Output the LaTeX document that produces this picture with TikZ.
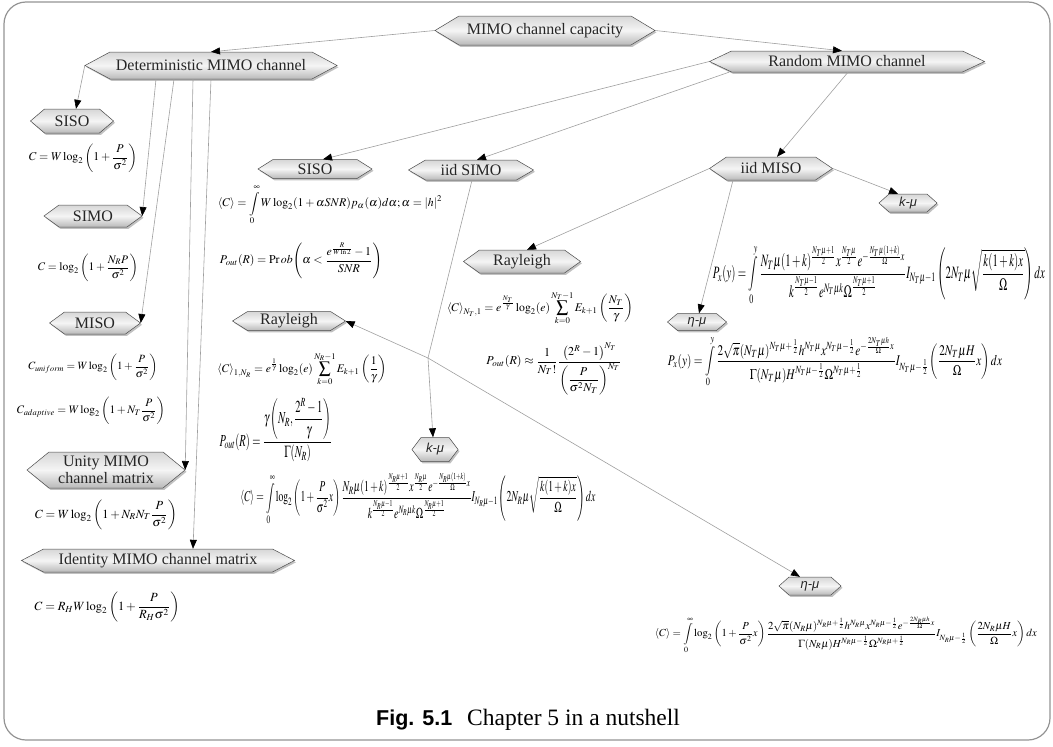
\documentclass[tikz,border=0pt]{standalone}
\usepackage{graphicx}
\usepackage{amsmath}
\usepackage{mathptmx}
\usepackage[no-math]{fontspec}
\setmainfont{Liberation Serif}
\newfontfamily\labelsans{Liberation Sans}
\usetikzlibrary{arrows.meta,shadows}

% fonts of the boxes and the caption
\newcommand\hexfont{\fontsize{16}{17}\selectfont}
\newcommand\fadingfont{\labelsans\itshape\fontsize{13}{14}\selectfont}
\newcommand\figfont{\labelsans\bfseries\fontsize{21.5}{24}\selectfont}
\newcommand\capfont{\fontsize{23.5}{26}\selectfont}

\tikzset{
  hexfill/.style={draw=gray!60!black, line width=0.5pt,
    top color=gray!32, bottom color=gray!55, middle color=gray!8,
    drop shadow={shadow xshift=1.5pt, shadow yshift=-1.8pt, fill=gray!60, opacity=0.8}},
  hexlabel/.style={rectangle, inner sep=0pt, align=center, font=\hexfont, text=black!85},
  link/.style={draw=gray!75, line width=0.6pt,
    -{Triangle[length=9pt, width=7pt, color=black]}},
  plainlink/.style={draw=gray!75, line width=0.6pt},
  eq/.style={inner sep=0pt},
  frame/.style={draw=gray!85, line width=1.2pt, rounded corners=22pt}
}

% hexagonal box: name, centre x, centre y, width, height, tip length, label
\newcommand{\hexnode}[7]{%
  \path[hexfill] ({#2-#4/2},#3) -- ({#2-#4/2+#6},{#3-#5/2}) -- ({#2+#4/2-#6},{#3-#5/2})
    -- ({#2+#4/2},#3) -- ({#2+#4/2-#6},{#3+#5/2}) -- ({#2-#4/2+#6},{#3+#5/2}) -- cycle;
  \node[hexlabel, minimum width=#4pt, minimum height=#5pt] (#1) at (#2,#3) {#7};
}

\begin{document}
\begin{tikzpicture}[x=1pt, y=-1pt]
\useasboundingbox (0,0) rectangle (1053,747);
\draw[frame] (4,2) rectangle (1050,740);

% ---- boxes ----
\hexnode{top}{545}{30.5}{220}{29}{24}{MIMO channel capacity}
\hexnode{det}{211}{65.5}{252}{27}{25}{Deterministic MIMO channel}
\hexnode{rnd}{847}{61.5}{275}{21}{22}{Random MIMO channel}

\hexnode{siso1}{72}{121}{83}{24}{14}{SISO}
\hexnode{simo1}{93}{216}{98}{22}{15}{SIMO}
\hexnode{miso1}{95}{323}{91}{22}{15}{MISO}
\hexnode{unity}{106}{470}{158}{36}{22}{Unity MIMO\\channel matrix}
\hexnode{ident}{158}{560.5}{273}{23}{22}{Identity MIMO channel matrix}

\hexnode{siso2}{315}{169}{114}{19}{15}{SISO}
\hexnode{isimo}{471}{170}{125}{20}{17}{iid SIMO}
\hexnode{imiso}{771}{168.5}{123}{23}{17}{iid MISO}

\hexnode{ray1}{289}{321}{113}{19}{15}{Rayleigh}
\hexnode{kmu1}{435}{449.5}{46}{24}{9}{\fadingfont k-μ}
\hexnode{eta1}{810}{586}{62}{18}{10}{\fadingfont η-μ}

\hexnode{ray2}{522}{261.5}{117}{23}{16}{Rayleigh}
\hexnode{eta2}{697}{322}{59}{17}{10}{\fadingfont η-μ}
\hexnode{kmu2}{908}{203}{58}{18}{10}{\fadingfont k-μ}

% ---- formulas, deterministic channel ----
\node[eq] (f1) at (83,158) {\resizebox{108pt}{!}{$\displaystyle C=W\log_2\left(1+\frac{P}{\sigma^2}\right)$}};
\node[eq] (f2) at (88,268) {\resizebox{100pt}{!}{$\displaystyle C=\log_2\left(1+\frac{N_R P}{\sigma^2}\right)$}};
\node[eq] (f3) at (93,367) {\resizebox{129pt}{!}{$\displaystyle C_{uniform}=W\log_2\left(1+\frac{P}{\sigma^2}\right)$}};
\node[eq] (f4) at (91,411) {\resizebox{148pt}{!}{$\displaystyle C_{adaptive}=W\log_2\left(1+N_T\frac{P}{\sigma^2}\right)$}};
\node[eq] (f5) at (106,515) {\resizebox{142pt}{!}{$\displaystyle C=W\log_2\left(1+N_RN_T\frac{P}{\sigma^2}\right)$}};
\node[eq] (f6) at (107,607) {\resizebox{145pt}{!}{$\displaystyle C=R_HW\log_2\left(1+\frac{P}{R_H\sigma^2}\right)$}};

% ---- formulas, random channel ----
\node[eq] (f7) at (330,205) {\resizebox{224pt}{!}{$\displaystyle \left\langle C\right\rangle=\int\limits_0^\infty W\log_2(1+\alpha SNR)p_\alpha(\alpha)d\alpha;\alpha=\left|h\right|^2$}};
\node[eq] (f8) at (301,261) {\resizebox{162pt}{!}{$\displaystyle P_{out}(R)=\mathrm{Pr}\,ob\Biggl(\alpha<\frac{e^{\frac{R}{W\ln 2}}-1}{SNR}\Biggr)$}};
\node[eq] (f9) at (302,369) {\resizebox{169pt}{!}{$\displaystyle \left\langle C\right\rangle_{1,N_R}=e^{\frac{1}{\gamma}}\log_2(e)\sum_{k=0}^{N_R-1}E_{k+1}\left(\frac{1}{\gamma}\right)$}};
\node[eq] (f10) at (276,430) {\resizebox*{113pt}{64pt}{$\displaystyle P_{out}(R)=\frac{\gamma\left(N_R,\dfrac{2^R-1}{\gamma}\right)}{\Gamma(N_R)}$}};
\node[eq] (f11) at (418,499) {\resizebox*{355pt}{52pt}{$\displaystyle \left\langle C\right\rangle=\int\limits_0^\infty\log_2\left(1+\frac{P}{\sigma^2}x\right)\frac{N_R\mu(1+k)^{\frac{N_R\mu+1}{2}}x^{\frac{N_R\mu}{2}}e^{-\frac{N_R\mu(1+k)}{\Omega}x}}{k^{\frac{N_R\mu-1}{2}}e^{N_R\mu k}\Omega^{\frac{N_R\mu+1}{2}}}I_{N_R\mu-1}\left(2N_R\mu\sqrt{\frac{k(1+k)x}{\Omega}}\right)dx$}};
\node[eq] (f12) at (540,308) {\resizebox{186pt}{!}{$\displaystyle \left\langle C\right\rangle_{N_T,1}=e^{\frac{N_T}{\gamma}}\log_2(e)\sum_{k=0}^{N_T-1}E_{k+1}\left(\frac{N_T}{\gamma}\right)$}};
\node[eq] (f13) at (554,369) {\resizebox{135pt}{!}{$\displaystyle P_{out}(R)\approx\frac{1}{N_T!}\frac{\left(2^R-1\right)^{N_T}}{\left(\dfrac{P}{\sigma^2N_T}\right)^{N_T}}$}};
\node[eq] (f14) at (879,275) {\resizebox*{332pt}{60pt}{$\displaystyle P_x(y)=\int\limits_0^y\frac{N_T\mu(1+k)^{\frac{N_T\mu+1}{2}}x^{\frac{N_T\mu}{2}}e^{-\frac{N_T\mu(1+k)}{\Omega}x}}{k^{\frac{N_T\mu-1}{2}}e^{N_T\mu k}\Omega^{\frac{N_T\mu+1}{2}}}I_{N_T\mu-1}\left(2N_T\mu\sqrt{\frac{k(1+k)x}{\Omega}}\right)dx$}};
\node[eq] (f15) at (835,362) {\resizebox*{334pt}{51pt}{$\displaystyle P_x(y)=\int\limits_0^y\frac{2\sqrt{\pi}(N_T\mu)^{N_T\mu+\frac12}h^{N_T\mu}x^{N_T\mu-\frac12}e^{-\frac{2N_T\mu h}{\Omega}x}}{\Gamma(N_T\mu)H^{N_T\mu-\frac12}\Omega^{N_T\mu+\frac12}}I_{N_T\mu-\frac12}\left(\frac{2N_T\mu H}{\Omega}x\right)dx$}};
\node[eq] (f16) at (846,635) {\resizebox{382pt}{!}{$\displaystyle \left\langle C\right\rangle=\int\limits_0^\infty\log_2\left(1+\frac{P}{\sigma^2}x\right)\frac{2\sqrt{\pi}(N_R\mu)^{N_R\mu+\frac12}h^{N_R\mu}x^{N_R\mu-\frac12}e^{-\frac{2N_R\mu h}{\Omega}x}}{\Gamma(N_R\mu)H^{N_R\mu-\frac12}\Omega^{N_R\mu+\frac12}}I_{N_R\mu-\frac12}\left(\frac{2N_R\mu H}{\Omega}x\right)dx$}};

% ---- connectors ----
\draw[link] (top.west) -- (det.north);
\draw[link] (top.east) -- ([xshift=-5pt]rnd.north);

\draw[link] (det.west) -- ([xshift=4pt]siso1.north);
\draw[link] ([xshift=-55pt]det.south) -- (simo1.east);
\draw[link] ([xshift=-37pt]det.south) -- (miso1.east);
\draw[link] ([xshift=-18pt]det.south) -- (unity.east);
\draw[link] (det.south) -- ([xshift=35pt]ident.north);

\draw[link] (rnd.west) -- ([xshift=8pt]siso2.north);
\draw[link] ([xshift=-118pt]rnd.south) -- ([xshift=6pt]isimo.north);
\draw[link] ([xshift=1pt]rnd.south) -- ([xshift=6pt]imiso.north);

\draw[link] (imiso.west) -- ([xshift=5pt]ray2.north);
\draw[link] ([xshift=-38pt]imiso.south) -- ([xshift=2pt]eta2.north);
\draw[link] (imiso.east) -- ([xshift=-10pt]kmu2.north);

\coordinate (J) at (428,358);
\draw[plainlink] ([xshift=1pt]isimo.south) -- (J);
\draw[link] (J) -- (ray1.east);
\draw[link] (J) -- ([xshift=-2pt]kmu1.north);
\draw[link] (J) -- ([xshift=-10pt]eta1.north);

% ---- caption ----
\node[anchor=base west, inner sep=0pt] (figno) at (376,725) {\figfont Fig. 5.1};
\node[anchor=base west, inner sep=0pt] (captext) at (467,725) {\capfont Chapter 5 in a nutshell};
\end{tikzpicture}
\end{document}
